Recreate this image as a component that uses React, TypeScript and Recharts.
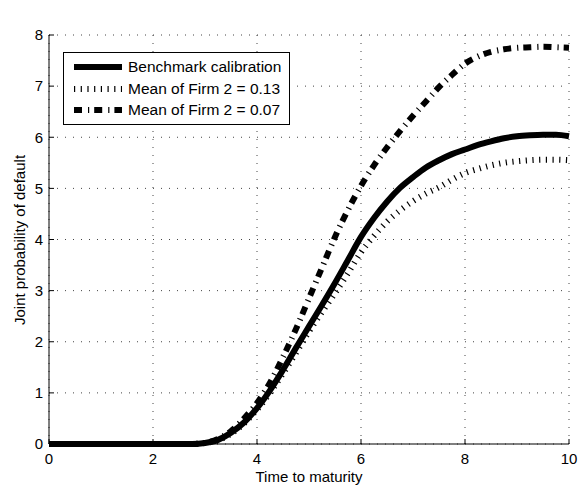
import React from 'react';
import { LineChart, Line, XAxis, YAxis, CartesianGrid } from 'recharts';

// time to maturity (years), sampled every quarter
const timeToMaturity = [
  0, 0.25, 0.5, 0.75, 1, 1.25, 1.5, 1.75, 2, 2.25, 2.5, 2.75,
  3, 3.25, 3.5, 3.75, 4, 4.25, 4.5, 4.75, 5, 5.25, 5.5, 5.75,
  6, 6.25, 6.5, 6.75, 7, 7.25, 7.5, 7.75, 8, 8.25, 8.5, 8.75,
  9, 9.25, 9.5, 9.75, 10,
];

// joint default probability, in units of 10^-3
const benchmark = [
  0, 0, 0, 0, 0, 0, 0, 0, 0, 0, 0, 0,
  0.02, 0.08, 0.22, 0.42, 0.7, 1.05, 1.45, 1.88, 2.3, 2.72, 3.15, 3.6,
  4.05, 4.42, 4.74, 5.01, 5.22, 5.41, 5.55, 5.67, 5.76, 5.85, 5.92, 5.98,
  6.02, 6.04, 6.05, 6.05, 6.02,
];

const meanFirm013 = [
  0, 0, 0, 0, 0, 0, 0, 0, 0, 0, 0, 0,
  0.02, 0.07, 0.2, 0.4, 0.67, 1.0, 1.38, 1.78, 2.2, 2.58, 2.95, 3.34,
  3.75, 4.07, 4.35, 4.57, 4.75, 4.9, 5.02, 5.17, 5.3, 5.38, 5.45, 5.5,
  5.53, 5.55, 5.56, 5.56, 5.55,
];

const meanFirm007 = [
  0, 0, 0, 0, 0, 0, 0, 0, 0, 0, 0, 0,
  0.02, 0.1, 0.25, 0.5, 0.8, 1.2, 1.7, 2.25, 2.85, 3.45, 4.05, 4.58,
  5.05, 5.45, 5.8, 6.12, 6.42, 6.7, 6.98, 7.22, 7.44, 7.58, 7.67, 7.72,
  7.75, 7.76, 7.77, 7.76, 7.75,
];

const seriesNames = ['Benchmark calibration', 'Mean of Firm 2 = 0.13', 'Mean of Firm 2 = 0.07'];
const xTicks = [0, 2, 4, 6, 8, 10];
const yTicks = [0, 1, 2, 3, 4, 5, 6, 7, 8];

const data = timeToMaturity.map((t, i) => ({
  t,
  bench: benchmark[i],
  m13: meanFirm013[i],
  m07: meanFirm007[i],
}));

const FONT = '"Liberation Sans", Arial, Helvetica, sans-serif';
const FS = 15;
const DOTTED = '1.2 5.5';
const DASHDOT = '8 6 1.2 5';

const styles = [
  { key: 'bench', width: 6, dash: undefined as string | undefined },
  { key: 'm13', width: 6, dash: DOTTED },
  { key: 'm07', width: 6, dash: DASHDOT },
];

const LegendBox = () => (
  <div
    style={{
      position: 'absolute',
      left: 63,
      top: 52,
      width: 227,
      height: 73,
      boxSizing: 'border-box',
      border: '1px solid #000',
      background: '#fff',
      fontFamily: FONT,
      fontSize: 15.5,
      color: '#000',
    }}
  >
    {seriesNames.map((name, i) => (
      <div key={name} style={{ position: 'absolute', left: 0, top: 4 + i * 21.5, height: 20, width: 225 }}>
        <svg width={60} height={20} style={{ position: 'absolute', left: 0, top: 0 }}>
          <line
            x1={10}
            x2={58}
            y1={10}
            y2={10}
            stroke="#000"
            strokeWidth={styles[i].width}
            strokeDasharray={styles[i].dash}
          />
        </svg>
        <span style={{ position: 'absolute', left: 64, top: 1, whiteSpace: 'nowrap', lineHeight: '18px' }}>
          {name}
        </span>
      </div>
    ))}
  </div>
);

export default function App() {
  return (
    <div style={{ position: 'absolute', left: 0, top: 0, width: 581, height: 489, background: '#fff' }}>
      <LineChart
        width={581}
        height={489}
        data={data}
        margin={{ top: 35, right: 12, bottom: 0, left: 0 }}
        style={{ fontFamily: FONT }}
      >
        <CartesianGrid
          stroke="#444"
          strokeDasharray="1 7"
          horizontalValues={yTicks}
          verticalValues={xTicks}
        />
        <XAxis
          dataKey="t"
          type="number"
          domain={[0, 10]}
          ticks={xTicks}
          height={45}
          tickSize={-5}
          tickMargin={14}
          axisLine={{ stroke: '#000' }}
          tickLine={{ stroke: '#000' }}
          tick={{ fill: '#000', fontSize: FS, fontFamily: FONT }}
          label={{
            content: () => (
              <text x={309} y={482} textAnchor="middle" fontSize={FS} fontFamily={FONT} fill="#000">
                Time to maturity
              </text>
            ),
          }}
        />
        <XAxis
          xAxisId="top"
          dataKey="t"
          type="number"
          orientation="top"
          domain={[0, 10]}
          ticks={xTicks}
          height={0}
          mirror
          tickSize={5}
          tick={false}
          axisLine={{ stroke: '#000' }}
          tickLine={{ stroke: '#000' }}
          label={{
            content: () => (
              <text x={48} y={27} fontSize={FS} fontFamily={FONT} fill="#000">
                x 10
                <tspan dy={-9} fontSize={10.5}>−3</tspan>
              </text>
            ),
          }}
        />
        <YAxis
          type="number"
          domain={[0, 8]}
          ticks={yTicks}
          width={49}
          tickSize={-5}
          tickMargin={11}
          axisLine={{ stroke: '#000' }}
          tickLine={{ stroke: '#000' }}
          tick={{ fill: '#000', fontSize: FS, fontFamily: FONT }}
          label={{
            content: () => (
              <text
                x={19}
                y={240}
                textAnchor="middle"
                dominantBaseline="central"
                transform="rotate(-90 19 240)"
                fontSize={FS}
                fontFamily={FONT}
                fill="#000"
              >
                Joint probability of default
              </text>
            ),
          }}
        />
        <YAxis
          yAxisId="right"
          orientation="right"
          type="number"
          domain={[0, 8]}
          ticks={yTicks}
          width={0}
          mirror
          tickSize={5}
          tick={false}
          axisLine={{ stroke: '#000' }}
          tickLine={{ stroke: '#000' }}
        />
        <Line
          dataKey="bench"
          name={seriesNames[0]}
          type="monotone"
          stroke="#000"
          strokeWidth={6}
          dot={false}
          isAnimationActive={false}
        />
        <Line
          dataKey="m13"
          name={seriesNames[1]}
          type="monotone"
          stroke="#000"
          strokeWidth={6}
          strokeDasharray={DOTTED}
          dot={false}
          isAnimationActive={false}
        />
        <Line
          dataKey="m07"
          name={seriesNames[2]}
          type="monotone"
          stroke="#000"
          strokeWidth={6}
          strokeDasharray={DASHDOT}
          dot={false}
          isAnimationActive={false}
        />
      </LineChart>
      <LegendBox />
    </div>
  );
}
